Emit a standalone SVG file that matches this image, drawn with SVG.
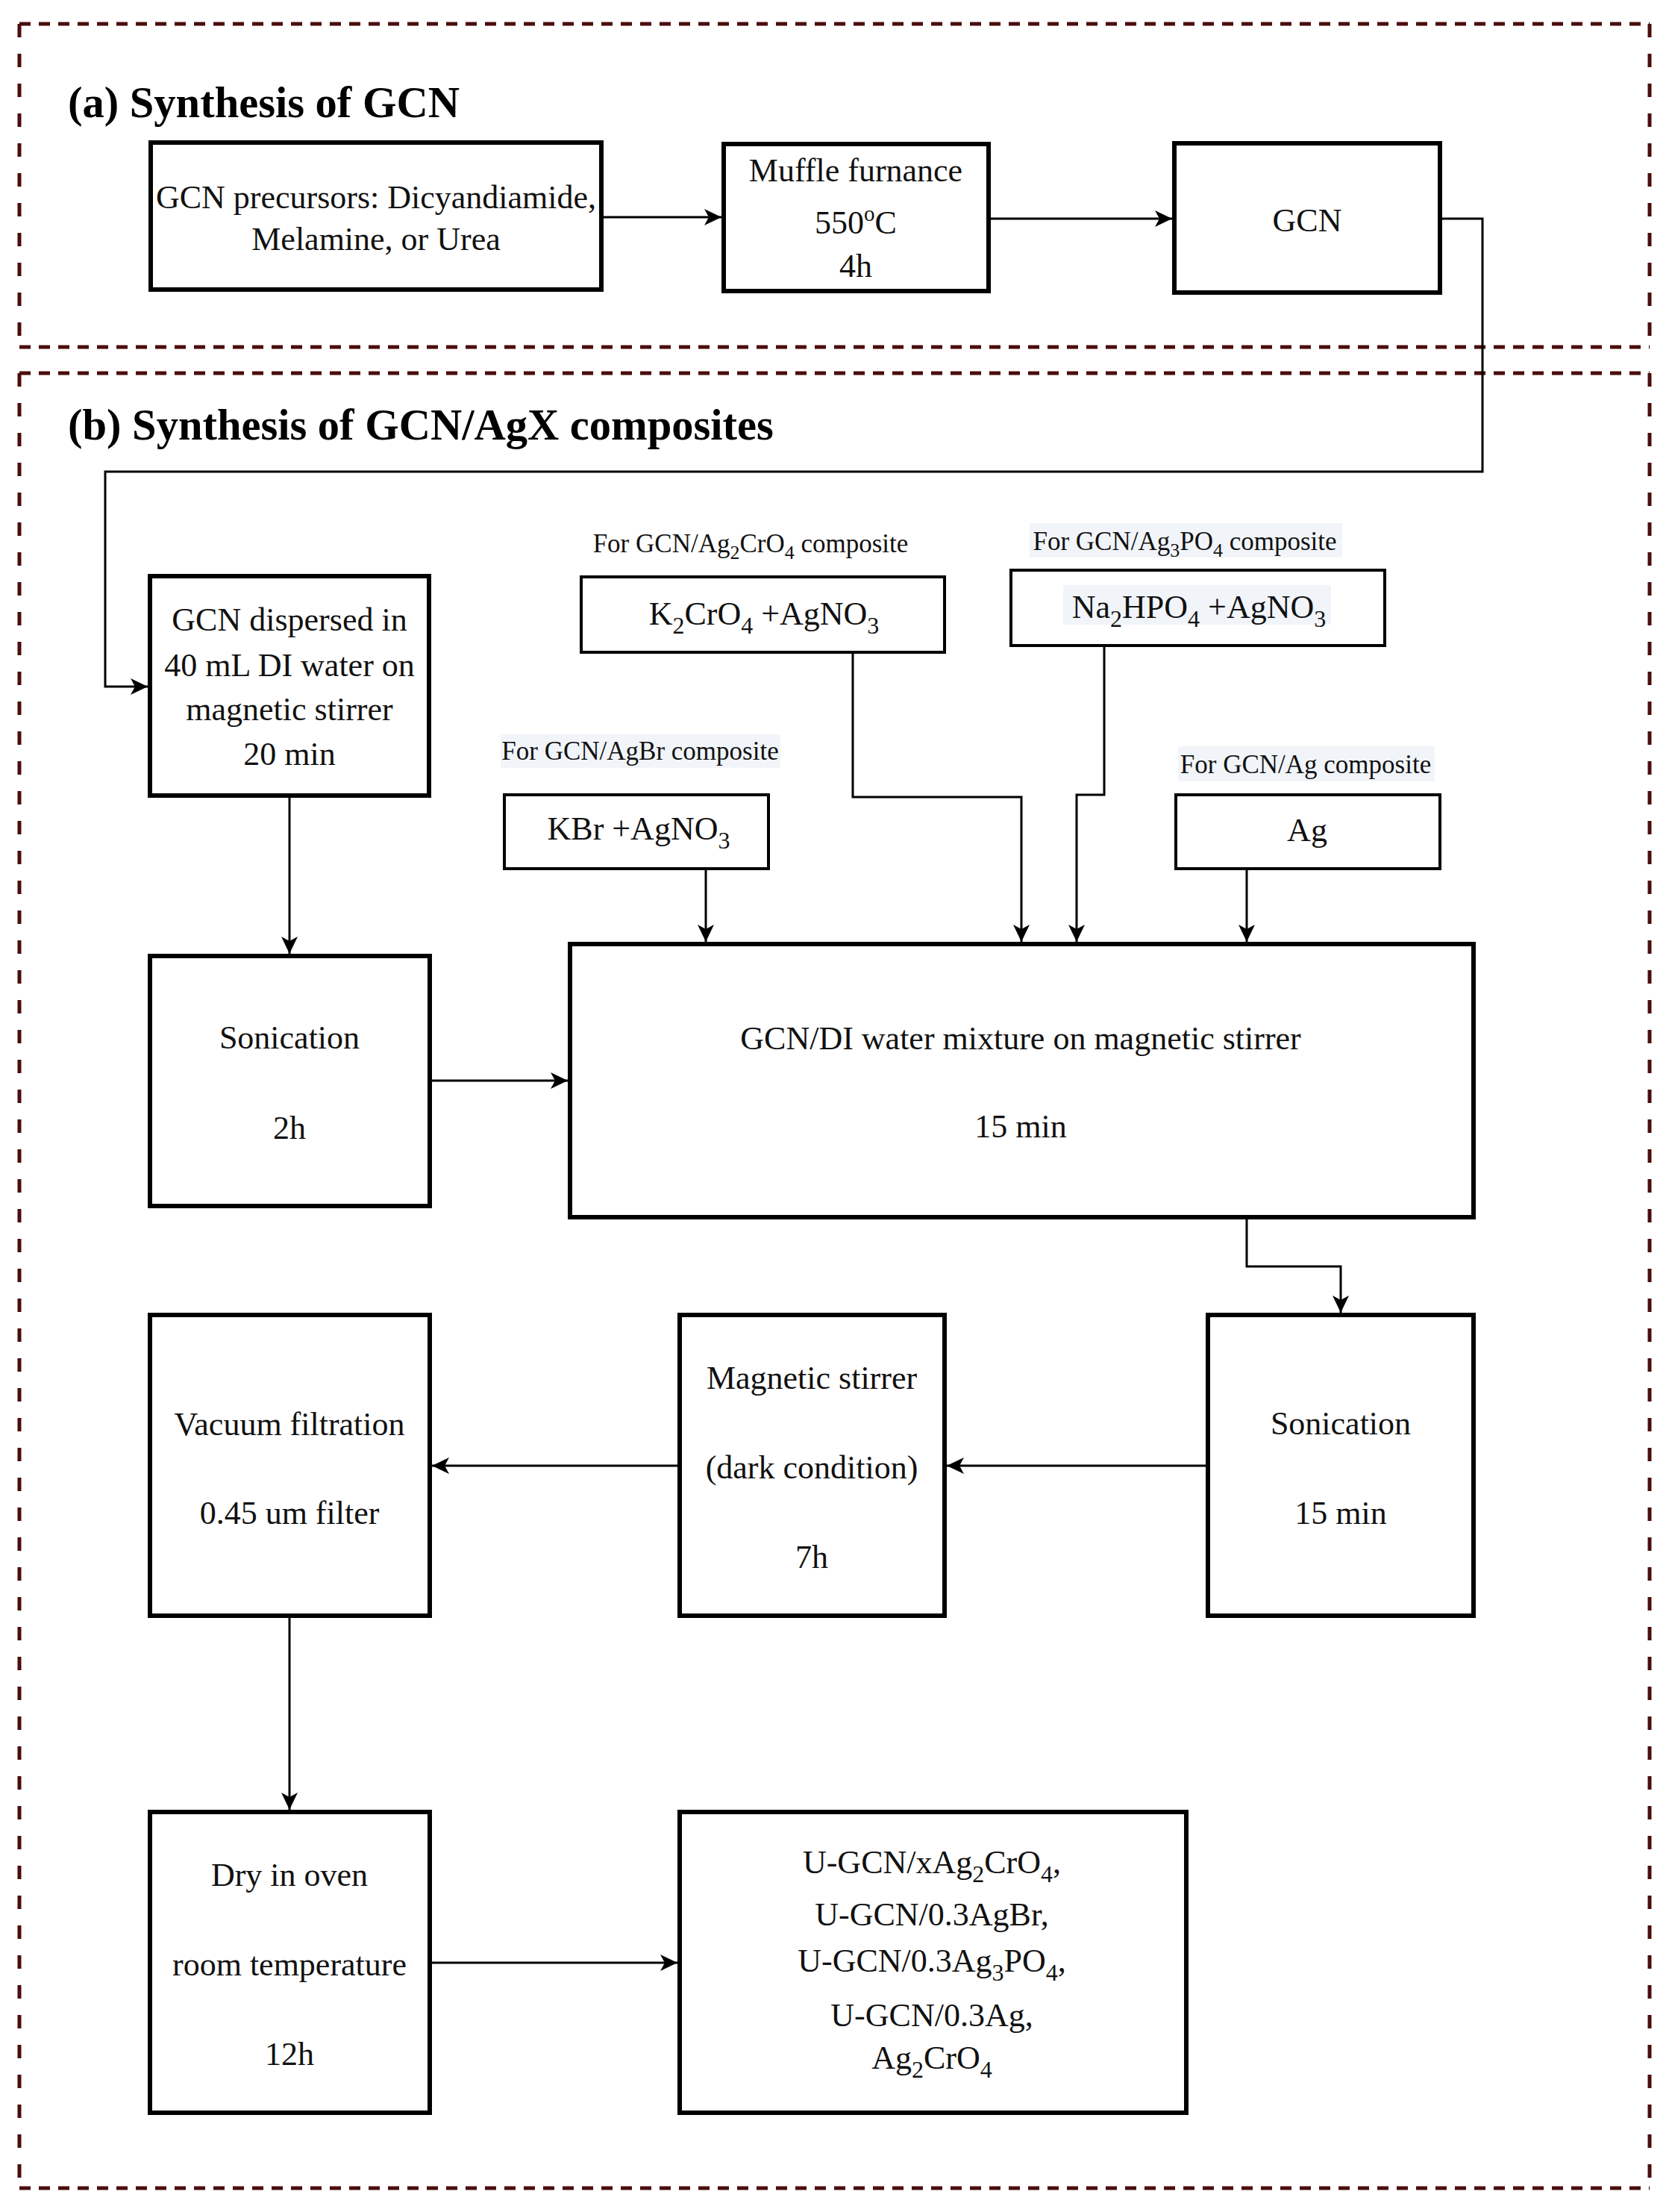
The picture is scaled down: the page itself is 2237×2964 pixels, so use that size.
<svg xmlns="http://www.w3.org/2000/svg" width="2237" height="2964" viewBox="0 0 2237 2964">
<style>
.box{fill:#fff;stroke:#000;stroke-width:6}
.ibox{fill:#fff;stroke:#000;stroke-width:4}
.hl{fill:#f1f5f9;stroke:none}
.t{font-family:"Liberation Serif","Times New Roman",serif;font-size:44px;text-anchor:middle;fill:#111}
.lbl{font-size:35px}
.title{font-family:"Liberation Serif","Times New Roman",serif;font-weight:bold;font-size:58.5px;fill:#000}
.conn{fill:none;stroke:#000;stroke-width:3;marker-end:url(#arr)}
.dh{stroke:#4a0d0d;stroke-width:5;stroke-dasharray:15 11;fill:none}
.dv{stroke:#4a0d0d;stroke-width:5;stroke-dasharray:18 22;fill:none}
.s{font-size:32px}
.ls{font-size:26px}
</style>
<defs>
<marker id="arr" markerUnits="userSpaceOnUse" markerWidth="24" markerHeight="22" refX="23" refY="11" orient="auto">
<path d="M0,0 L23,11 L0,22 L6,11 Z" fill="#000"/>
</marker>
</defs>
<rect width="2237" height="2964" fill="#fff"/>

<g id="section-a">
<line class="dh" x1="26" y1="32" x2="2211" y2="32"/>
<line class="dh" x1="26" y1="465" x2="2211" y2="465"/>
<line class="dv" x1="26" y1="32" x2="26" y2="465"/>
<line class="dv" x1="2211" y1="32" x2="2211" y2="465"/>
<text class="title" x="91" y="157">(a) Synthesis of GCN</text>
</g>

<g id="section-b">
<line class="dh" x1="26" y1="500" x2="2211" y2="500"/>
<line class="dh" x1="26" y1="2932" x2="2211" y2="2932"/>
<line class="dv" x1="26" y1="500" x2="26" y2="2932"/>
<line class="dv" x1="2211" y1="500" x2="2211" y2="2932"/>
<text class="title" x="91" y="589">(b) Synthesis of GCN/AgX composites</text>
</g>

<g id="n-precursors">
<rect class="box" x="202" y="191" width="604" height="197"/>
<text class="t" x="504" y="279">GCN precursors: Dicyandiamide,</text>
<text class="t" x="504" y="335">Melamine, or Urea</text>
</g>

<g id="n-muffle">
<rect class="box" x="970" y="193" width="355" height="197"/>
<text class="t" x="1147" y="243">Muffle furnance</text>
<text class="t" x="1147" y="313">550<tspan dy="-17" font-size="29">o</tspan><tspan dy="17">C</tspan></text>
<text class="t" x="1147" y="371">4h</text>
</g>

<g id="n-gcn">
<rect class="box" x="1574" y="192" width="356" height="200"/>
<text class="t" x="1752" y="310">GCN</text>
</g>

<g id="n-dispersed">
<rect class="box" x="201" y="772" width="374" height="294"/>
<text class="t" x="388" y="845">GCN dispersed in</text>
<text class="t" x="388" y="906">40 mL DI water on</text>
<text class="t" x="388" y="965">magnetic stirrer</text>
<text class="t" x="388" y="1025">20 min</text>
</g>

<g id="n-k2cro4">
<text class="t lbl" x="1006" y="740">For GCN/Ag<tspan dy="9" class="ls">2</tspan><tspan dy="-9">CrO</tspan><tspan dy="9" class="ls">4</tspan><tspan dy="-9"> composite</tspan></text>
<rect class="ibox" x="779" y="773" width="487" height="101"/>
<text class="t" x="1024" y="837">K<tspan dy="12" class="s">2</tspan><tspan dy="-12">CrO</tspan><tspan dy="12" class="s">4</tspan><tspan dy="-12"> +AgNO</tspan><tspan dy="12" class="s">3</tspan></text>
</g>

<g id="n-na2hpo4">
<rect class="hl" x="1380" y="701" width="419" height="46"/>
<text class="t lbl" x="1588" y="737">For GCN/Ag<tspan dy="9" class="ls">3</tspan><tspan dy="-9">PO</tspan><tspan dy="9" class="ls">4</tspan><tspan dy="-9"> composite</tspan></text>
<rect class="ibox" x="1355" y="764" width="501" height="101"/>
<rect class="hl" x="1425" y="784" width="359" height="53"/>
<text class="t" x="1607" y="828">Na<tspan dy="12" class="s">2</tspan><tspan dy="-12">HPO</tspan><tspan dy="12" class="s">4</tspan><tspan dy="-12"> +AgNO</tspan><tspan dy="12" class="s">3</tspan></text>
</g>

<g id="n-kbr">
<rect class="hl" x="671" y="984" width="375" height="45"/>
<text class="t lbl" x="858" y="1018">For GCN/AgBr composite</text>
<rect class="ibox" x="676" y="1065" width="354" height="99"/>
<text class="t" x="856" y="1125">KBr +AgNO<tspan dy="12" class="s">3</tspan></text>
</g>

<g id="n-ag">
<rect class="hl" x="1579" y="1000" width="344" height="47"/>
<text class="t lbl" x="1750" y="1036">For GCN/Ag composite</text>
<rect class="ibox" x="1576" y="1065" width="354" height="99"/>
<text class="t" x="1752" y="1127">Ag</text>
</g>

<g id="n-sonication1">
<rect class="box" x="201" y="1281" width="375" height="335"/>
<text class="t" x="388" y="1405">Sonication</text>
<text class="t" x="388" y="1526">2h</text>
</g>

<g id="n-mixture">
<rect class="box" x="764" y="1265" width="1211" height="366"/>
<text class="t" x="1368" y="1406">GCN/DI water mixture on magnetic stirrer</text>
<text class="t" x="1368" y="1524">15 min</text>
</g>

<g id="n-sonication2">
<rect class="box" x="1619" y="1762" width="356" height="403"/>
<text class="t" x="1797" y="1922">Sonication</text>
<text class="t" x="1797" y="2042">15 min</text>
</g>

<g id="n-magnetic">
<rect class="box" x="911" y="1762" width="355" height="403"/>
<text class="t" x="1088" y="1861">Magnetic stirrer</text>
<text class="t" x="1088" y="1981">(dark condition)</text>
<text class="t" x="1088" y="2101">7h</text>
</g>

<g id="n-vacuum">
<rect class="box" x="201" y="1762" width="375" height="403"/>
<text class="t" x="388" y="1923">Vacuum filtration</text>
<text class="t" x="388" y="2042">0.45 um filter</text>
</g>

<g id="n-dry">
<rect class="box" x="201" y="2428" width="375" height="403"/>
<text class="t" x="388" y="2527">Dry in oven</text>
<text class="t" x="388" y="2647">room temperature</text>
<text class="t" x="388" y="2767">12h</text>
</g>

<g id="n-products">
<rect class="box" x="911" y="2428" width="679" height="403"/>
<text class="t" x="1249" y="2510">U-GCN/xAg<tspan dy="12" class="s">2</tspan><tspan dy="-12">CrO</tspan><tspan dy="12" class="s">4</tspan><tspan dy="-12">,</tspan></text>
<text class="t" x="1249" y="2580">U-GCN/0.3AgBr,</text>
<text class="t" x="1249" y="2642">U-GCN/0.3Ag<tspan dy="12" class="s">3</tspan><tspan dy="-12">PO</tspan><tspan dy="12" class="s">4</tspan><tspan dy="-12">,</tspan></text>
<text class="t" x="1249" y="2715">U-GCN/0.3Ag,</text>
<text class="t" x="1249" y="2772">Ag<tspan dy="12" class="s">2</tspan><tspan dy="-12">CrO</tspan><tspan dy="12" class="s">4</tspan></text>
</g>

<g id="connectors">
<path class="conn" d="M809,291 L967,291"/>
<path class="conn" d="M1328,293 L1571,293"/>
<path class="conn" d="M1933,293 L1987,293 L1987,632 L141,632 L141,920 L198,920"/>
<path class="conn" d="M388,1069 L388,1278"/>
<path class="conn" d="M579,1448 L761,1448"/>
<path class="conn" d="M946,1166 L946,1262"/>
<path class="conn" d="M1143,876 L1143,1068 L1369,1068 L1369,1262"/>
<path class="conn" d="M1480,867 L1480,1065 L1443,1065 L1443,1262"/>
<path class="conn" d="M1671,1166 L1671,1262"/>
<path class="conn" d="M1671,1634 L1671,1697 L1797,1697 L1797,1759"/>
<path class="conn" d="M1616,1964 L1269,1964"/>
<path class="conn" d="M908,1964 L579,1964"/>
<path class="conn" d="M388,2168 L388,2425"/>
<path class="conn" d="M579,2630 L908,2630"/>
</g>
</svg>
